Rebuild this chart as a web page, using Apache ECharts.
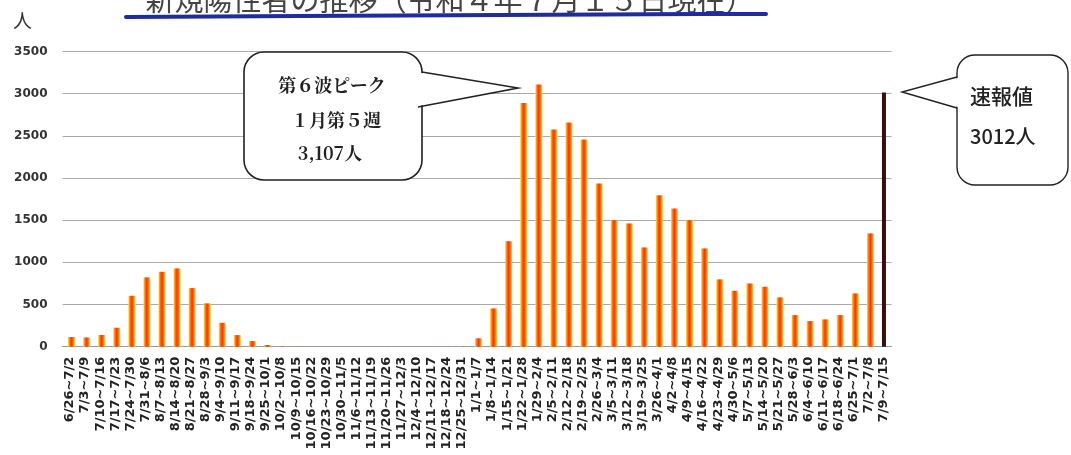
<!DOCTYPE html>
<html>
<head>
<meta charset="utf-8">
<script src="https://cdn.jsdelivr.net/npm/echarts@6/dist/echarts.min.js"></script>
<style>
html,body{margin:0;padding:0;background:#fff;}
#chart{width:1071px;height:455px;}
</style>
</head>
<body>
<div id="chart"></div>
<script>
const categories = [
  "6/26~7/2","7/3~7/9","7/10~7/16","7/17~7/23","7/24~7/30","7/31~8/6","8/7~8/13","8/14~8/20",
  "8/21~8/27","8/28~9/3","9/4~9/10","9/11~9/17","9/18~9/24","9/25~10/1","10/2~10/8","10/9~10/15",
  "10/16~10/22","10/23~10/29","10/30~11/5","11/6~11/12","11/13~11/19","11/20~11/26","11/27~12/3",
  "12/4~12/10","12/11~12/17","12/18~12/24","12/25~12/31","1/1~1/7","1/8~1/14","1/15~1/21",
  "1/22~1/28","1/29~2/4","2/5~2/11","2/12~2/18","2/19~2/25","2/26~3/4","3/5~3/11","3/12~3/18",
  "3/19~3/25","3/26~4/1","4/2~4/8","4/9~4/15","4/16~4/22","4/23~4/29","4/30~5/6","5/7~5/13",
  "5/14~5/20","5/21~5/27","5/28~6/3","6/4~6/10","6/11~6/17","6/18~6/24","6/25~7/1","7/2~7/8","7/9~7/15"
];
const weeklyCases = [
  115, 110, 140, 225, 604, 822, 888, 928,
  695, 514, 284, 138, 67, 20, 5, 2,
  1, 1, 1, 1, 1, 1, 1,
  1, 1, 2, 3, 100, 454, 1251,
  2889, 3107, 2574, 2657, 2455, 1935, 1500, 1461,
  1177, 1796, 1639, 1500, 1165, 798, 663, 750,
  711, 585, 375, 304, 324, 375, 632, 1343, null
];
const preliminary = [
  null,null,null,null,null,null,null,null,null,null,null,null,null,null,null,null,null,null,null,null,
  null,null,null,null,null,null,null,null,null,null,null,null,null,null,null,null,null,null,null,null,
  null,null,null,null,null,null,null,null,null,null,null,null,null,null,3012
];
const yTicks = [0,500,1000,1500,2000,2500,3000,3500];
const titleText = "新規陽性者の推移（令和４年７月１５日現在）";

const chart = echarts.init(document.getElementById('chart'), null, {renderer:'canvas'});
const barGrad = {type:'linear',x:0,y:0,x2:1,y2:0,colorStops:[
  {offset:0,color:'#ffe04a'},
  {offset:0.28,color:'#ff6a10'},
  {offset:0.5,color:'#ec3a0c'},
  {offset:0.72,color:'#ff6a10'},
  {offset:1,color:'#ffe04a'}
]};
const calloutFont = 'bold 18px "Noto Serif CJK JP","Noto Sans CJK JP"';
const option = {
  animation:false,
  backgroundColor:'#fff',
  grid:{left:62.5,right:179.5,top:51.4,bottom:108.3},
  xAxis:{
    type:'category',
    data:categories,
    axisTick:{show:false},
    axisLine:{show:true,lineStyle:{color:'#999',width:1}},
    axisLabel:{interval:0,rotate:90,fontFamily:'DejaVu Sans',fontWeight:'bold',fontSize:13,color:'#222',margin:10}
  },
  yAxis:{
    type:'value',min:0,max:3500,interval:500,
    axisLine:{show:false},axisTick:{show:false},
    splitLine:{lineStyle:{color:'#aaaaaa',width:1}},
    axisLabel:{fontFamily:'DejaVu Sans',fontWeight:'bold',fontSize:12,color:'#333',margin:15,
      formatter:function(v){return yTicks.indexOf(v)>=0?String(v):'';}}
  },
  series:[
    {type:'bar',data:weeklyCases,barWidth:7,barGap:'-100%',itemStyle:{color:barGrad}},
    {type:'bar',data:preliminary,barWidth:4,barGap:'-100%',itemStyle:{color:'#3a0d0d'}}
  ],
  graphic:[
    {type:'text',z:10,style:{x:450,y:14,text:titleText,font:'29px "Noto Sans CJK JP"',fill:'#444',textAlign:'center',textVerticalAlign:'bottom'}},
    {type:'polyline',z:11,shape:{points:[[126,17],[300,16],[500,15],[700,14],[766,14]]},
      style:{stroke:'#1f2c9e',lineWidth:4,lineCap:'round'}},
    {type:'text',style:{x:13,y:11,text:'人',font:'19px "Noto Sans CJK JP"',fill:'#333'}},
    {type:'rect',z:20,shape:{x:244,y:52,width:178,height:128,r:20},style:{fill:'#fff',stroke:'#222',lineWidth:1.6}},
    {type:'polygon',z:21,shape:{points:[[421,73],[518,88],[418,106]]},style:{fill:'#fff',stroke:null}},
    {type:'polyline',z:22,shape:{points:[[422,72],[518,88],[418,107]]},style:{stroke:'#222',lineWidth:1.6,fill:null}},
    {type:'text',z:23,style:{x:332,y:85,text:'第６波ピーク',font:calloutFont,fill:'#222',textAlign:'center',textVerticalAlign:'middle'}},
    {type:'text',z:23,style:{x:336,y:120,text:'１月第５週',font:calloutFont,fill:'#222',textAlign:'center',textVerticalAlign:'middle'}},
    {type:'text',z:23,style:{x:330,y:153,text:'3,107人',font:calloutFont,fill:'#222',textAlign:'center',textVerticalAlign:'middle'}},
    {type:'rect',z:20,shape:{x:957,y:55,width:111,height:130,r:18},style:{fill:'#fff',stroke:'#222',lineWidth:1.4}},
    {type:'polygon',z:21,shape:{points:[[958,78],[902,92],[958,107]]},style:{fill:'#fff',stroke:null}},
    {type:'polyline',z:22,shape:{points:[[957,77],[902,92],[957,108]]},style:{stroke:'#222',lineWidth:1.4,fill:null}},
    {type:'text',z:23,style:{x:970,y:96,text:'速報値',font:'500 21px "Noto Sans CJK JP"',fill:'#222',textVerticalAlign:'middle'}},
    {type:'text',z:23,style:{x:970,y:136,text:'3012人',font:'500 20px "Noto Sans CJK JP"',fill:'#222',textVerticalAlign:'middle'}}
  ]
};
chart.setOption(option);
</script>
</body>
</html>
